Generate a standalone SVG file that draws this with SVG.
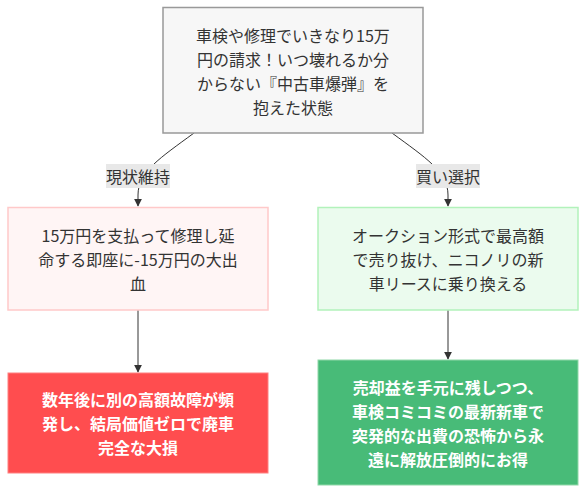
<svg xmlns="http://www.w3.org/2000/svg" width="586" height="494" viewBox="0 0 586 494">
<defs>
<style>
text{font-family:"Noto Sans CJK JP","Noto Sans",sans-serif;font-size:16px;text-anchor:middle;dominant-baseline:central;fill:#333}
.w{fill:#fff;font-weight:bold}
.edge{fill:none;stroke:#333;stroke-width:1}
.lbl{fill:#e8e8e8}
</style>
<marker id="arr" viewBox="0 0 10 10" refX="9" refY="5" markerWidth="8" markerHeight="8" markerUnits="userSpaceOnUse" orient="auto">
<path d="M0,0 L10,5 L0,10 z" fill="#333"/>
</marker>
</defs>
<rect width="586" height="494" fill="#fff"/>
<g id="edges">
<path class="edge" d="M194,133 C160,158 138,172 138,195 L138,206" marker-end="url(#arr)"/>
<path class="edge" d="M392,133 C426,158 448,172 448,195 L448,206" marker-end="url(#arr)"/>
<path class="edge" d="M138,310 L138,372" marker-end="url(#arr)"/>
<path class="edge" d="M448,310 L448,359" marker-end="url(#arr)"/>
<g id="label1"><rect class="lbl" x="106" y="164" width="64" height="24"/><text x="138" y="176">現状維持</text></g>
<g id="label2"><rect class="lbl" x="416" y="164" width="64" height="24"/><text x="448" y="176">買い選択</text></g>
</g>
<g id="start">
<rect x="163" y="7.5" width="260" height="125.5" fill="#f7f7f7" stroke="#999" stroke-width="1.5"/>
<text x="293" y="34.5">車検や修理でいきなり15万</text>
<text x="293" y="58.5">円の請求！いつ壊れるか分</text>
<text x="293" y="82.5">からない『中古車爆弾』を</text>
<text x="293" y="106.5">抱えた状態</text>
</g>
<g id="keep">
<rect x="8" y="207.5" width="260" height="102.5" fill="#fff5f5" stroke="#ffc9c9" stroke-width="1.5"/>
<text x="138" y="235">15万円を支払って修理し延</text>
<text x="138" y="259">命する即座に-15万円の大出</text>
<text x="138" y="283">血</text>
</g>
<g id="buy">
<rect x="318" y="207.5" width="260" height="102.5" fill="#ebfbee" stroke="#b2f2bb" stroke-width="1.5"/>
<text x="448" y="235">オークション形式で最高額</text>
<text x="448" y="259">で売り抜け、ニコノリの新</text>
<text x="448" y="283">車リースに乗り換える</text>
</g>
<g id="bad">
<rect x="8" y="373" width="260" height="100" fill="#ff4d4f" stroke="#ff8080" stroke-width="1"/>
<text class="w" x="138" y="399">数年後に別の高額故障が頻</text>
<text class="w" x="138" y="423">発し、結局価値ゼロで廃車</text>
<text class="w" x="138" y="447">完全な大損</text>
</g>
<g id="good">
<rect x="318" y="360" width="260" height="125" fill="#48bb78" stroke="#8fd8a8" stroke-width="1"/>
<text class="w" x="448" y="386.5">売却益を手元に残しつつ、</text>
<text class="w" x="448" y="410.5">車検コミコミの最新新車で</text>
<text class="w" x="448" y="434.5">突発的な出費の恐怖から永</text>
<text class="w" x="448" y="458.5">遠に解放圧倒的にお得</text>
</g>
</svg>
